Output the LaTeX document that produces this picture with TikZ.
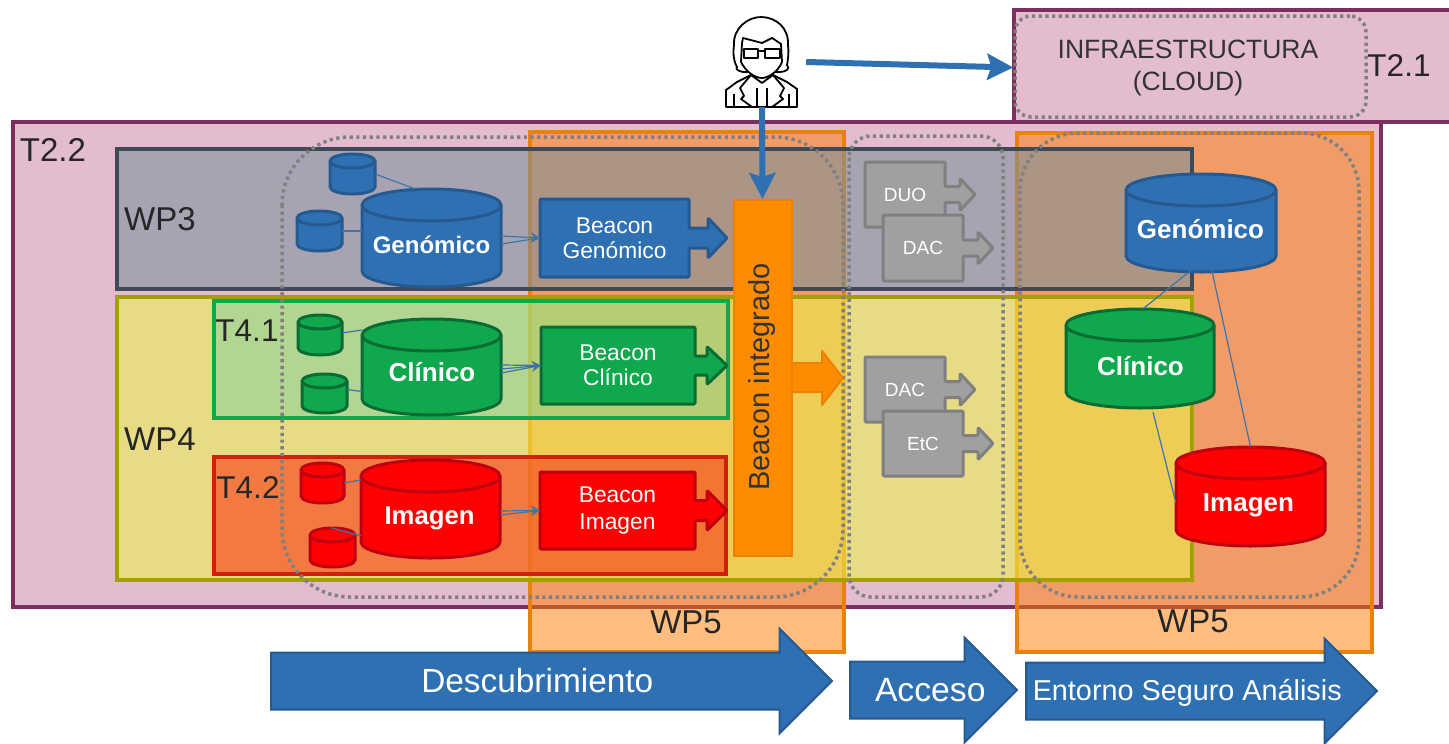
\documentclass[tikz,border=0pt]{standalone}
\usepackage{fontspec}
\setmainfont{Liberation Sans}
\usetikzlibrary{shapes.arrows,arrows.meta}
\definecolor{pinkbg}{HTML}{E4BCD0}
\definecolor{plum}{HTML}{7B2F5F}
\definecolor{wpthree}{HTML}{7C919E}
\definecolor{wpthreeb}{HTML}{3F4A55}
\definecolor{wpfour}{HTML}{EBF648}
\definecolor{wpfourb}{HTML}{A3A000}
\definecolor{tfa}{HTML}{72D0A0}
\definecolor{tfab}{HTML}{10A84A}
\definecolor{tfb}{HTML}{F8451F}
\definecolor{tfbb}{HTML}{D02010}
\definecolor{wpfive}{HTML}{FF7D00}
\definecolor{wpfiveb}{HTML}{E8820C}
\definecolor{blueF}{HTML}{2E70B2}
\definecolor{blueB}{HTML}{25598F}
\definecolor{greenF}{HTML}{0FA84C}
\definecolor{greenB}{HTML}{0B6B35}
\definecolor{redF}{HTML}{FE0000}
\definecolor{redB}{HTML}{BE0010}
\definecolor{greyF}{HTML}{A0A0A0}
\definecolor{greyB}{HTML}{808080}
\definecolor{orF}{HTML}{FF8C00}
\definecolor{orB}{HTML}{F08000}
\definecolor{linkc}{HTML}{3F74A8}
\tikzset{
 x=1pt,y=-1pt,
 lab/.style={font=\fontsize{33}{35}\selectfont,text=black!85,inner sep=0},
 tlab/.style={font=\fontsize{31.5}{34}\selectfont,text=black!85,inner sep=0},
 band/.style={line width=3.5pt,rectangle},
 dotbox/.style={draw=greyB,line width=3.5pt,dash pattern=on 3.2pt off 3.5pt},
 link/.style={draw=linkc,line width=1.2pt},
 linka/.style={link,-{Stealth[length=9pt,width=11pt]}},
 thick arrow/.style={draw=blueF,line width=6pt,-{Stealth[length=26pt,width=26pt,inset=4pt]}},
 bigarrow/.style={shape=single arrow,single arrow tip angle=90,single arrow head indent=0pt,draw=blueB,fill=blueF,line width=2pt,inner xsep=0,inner ysep=0,text=white,anchor=west,single arrow head extend=24pt,text height=38.5pt,text depth=16.5pt},
 cyltext/.style={font=\bfseries\fontsize{#1}{28}\selectfont,text=white,inner sep=0},
}
% cylinder: name, colour, x0, y0, x1, y1, ry (a rectangle node called name spans it)
\newcommand\dbcyl[7]{%
 \pgfmathsetmacro\cylcx{(#3+#5)/2}%
 \pgfmathsetmacro\cylrx{(#5-#3)/2}%
 \pgfmathsetmacro\cylyt{#4+#7}%
 \pgfmathsetmacro\cylyb{#6-#7}%
 \pgfmathsetmacro\cylkx{.5523*\cylrx}%
 \pgfmathsetmacro\cylky{.5523*#7}%
 \pgfmathsetmacro\cylw{#5-#3}%
 \pgfmathsetmacro\cylh{#6-#4}%
 \pgfmathsetmacro\cylcy{(#4+#6)/2}%
 \draw[draw=#2B,fill=#2F,line width=3pt,line join=round]
  (#3,\cylyt) -- (#3,\cylyb) .. controls (#3,\cylyb+\cylky) and (\cylcx-\cylkx,#6) .. (\cylcx,#6)
  .. controls (\cylcx+\cylkx,#6) and (#5,\cylyb+\cylky) .. (#5,\cylyb) -- (#5,\cylyt)
  .. controls (#5,\cylyt-\cylky) and (\cylcx+\cylkx,#4) .. (\cylcx,#4)
  .. controls (\cylcx-\cylkx,#4) and (#3,\cylyt-\cylky) .. (#3,\cylyt) -- cycle;
 \draw[draw=#2B,line width=3pt] (#5,\cylyt)
  .. controls (#5,\cylyt+\cylky) and (\cylcx+\cylkx,\cylyt+#7) .. (\cylcx,\cylyt+#7)
  .. controls (\cylcx-\cylkx,\cylyt+#7) and (#3,\cylyt+\cylky) .. (#3,\cylyt);
 \node[minimum width=\cylw pt,minimum height=\cylh pt,inner sep=0] (#1) at (\cylcx,\cylcy) {};}
% name, colour, x0, y0, xb, y1, xh, tip, head half-height, then node options and text
\newcommand\callout[9]{%
 \pgfmathsetmacro\cyc{(#4+#6)/2}%
 \pgfmathsetmacro\hhalf{#9}%
 \pgfmathsetmacro\shalf{#9/2}%
 \draw[draw=#2B,fill=#2F,line width=3pt,line join=round,rounded corners=1pt]
  (#3,#4)--(#5,#4)--(#5,\cyc-\shalf)--(#7,\cyc-\shalf)--(#7,\cyc-\hhalf)--(#8,\cyc)--(#7,\cyc+\hhalf)--(#7,\cyc+\shalf)--(#5,\cyc+\shalf)--(#5,#6)--(#3,#6)--cycle;
 \pgfmathsetmacro\cxc{(#3+#5)/2}%
 \pgfmathsetmacro\bw{#5-#3}%
 \pgfmathsetmacro\bh{#6-#4}%
 \node[minimum width=\bw pt,minimum height=\bh pt,inner sep=0,align=center,text=white] (#1) at (\cxc,\cyc)}
\begin{document}
\begin{tikzpicture}
\useasboundingbox (0,0) rectangle (1449,744);
% ---- outer bands
\draw[band,draw=plum,fill=pinkbg] (1014,10) rectangle (1455,122);
\draw[band,draw=plum,fill=pinkbg] (13,122) rectangle (1381,607);
\path[fill=wpfive,fill opacity=.5] (530,132) rectangle (844,652);
\path[fill=wpfive,fill opacity=.5] (1017,133) rectangle (1372,652);
\draw[band,draw=wpfiveb] (530,132) rectangle (844,652);
\draw[band,draw=wpfiveb] (1017,133) rectangle (1372,652);
\path[fill=wpthree,fill opacity=.58] (117,149) rectangle (1192,289);
\draw[band,draw=wpthreeb] (117,149) rectangle (1192,289);
\path[fill=wpfour,fill opacity=.55] (117,297) rectangle (1192,580);
\draw[band,draw=wpfourb] (117,297) rectangle (1192,580);
\path[fill=tfa,fill opacity=.45] (214,301) rectangle (728,418);
\draw[band,draw=tfab] (214,301) rectangle (728,418);
\path[fill=tfb,fill opacity=.65] (214,457) rectangle (726,574);
\draw[band,draw=tfbb] (214,457) rectangle (726,574);
% ---- dotted groupings
\draw[dotbox,rounded corners=68pt] (282,137) rectangle (843,597);
\draw[dotbox,rounded corners=22pt] (849,136) rectangle (1003,597);
\draw[dotbox,rounded corners=58pt] (1020,133) rectangle (1359,597);
\node[dotbox,rectangle,rounded corners=16pt,minimum width=351pt,minimum height=101pt,inner sep=0] (cloud) at (1190.5,66.5) {};
\node[inner sep=0,align=center,text=black!80,font=\fontsize{26.5}{32}\selectfont] (cloudt) at (1188,68) {INFRAESTRUCTURA\\(CLOUD)};
% ---- labels
\node[lab] (lT22) at (53,150) {T2.2};
\node[tlab] (lT21) at (1399,66) {T2.1};
\node[lab] (lWP3) at (160,219) {WP3};
\node[lab] (lWP4) at (160,439) {WP4};
\node[tlab] (lT41) at (247,331) {T4.1};
\node[tlab] (lT42) at (248,487) {T4.2};
\node[lab] (lW5a) at (686,622) {WP5};
\node[lab] (lW5b) at (1193,621) {WP5};
% ---- left cylinders
\dbcyl{gen}{blue}{362}{189}{501}{287}{16}
\node[cyltext=24] (gent) at (431.5,245) {Genómico};
\dbcyl{gs1}{blue}{330}{154}{375}{194}{7}
\dbcyl{gs2}{blue}{297}{211}{342}{251}{7}
\dbcyl{cli}{green}{362}{319}{501}{415}{16}
\node[cyltext=26] (clit) at (432,372) {Clínico};
\dbcyl{cs1}{green}{298}{315}{342}{355}{7}
\dbcyl{cs2}{green}{302}{374}{347}{413}{7}
\dbcyl{ima}{red}{361}{460}{500}{558}{16}
\node[cyltext=25.7] (imat) at (429.5,518) {Imagen};
\dbcyl{rs1}{red}{301}{463}{344}{503}{7}
\dbcyl{rs2}{red}{310}{528}{355}{567}{7}
% ---- callouts
\callout{bg}{blue}{540}{199}{689}{277}{708}{727}{20}[font=\fontsize{22.8}{25}\selectfont] {Beacon\\Genómico};
\callout{bc}{green}{541}{327}{695}{404}{707}{727}{19}[font=\fontsize{22.8}{25}\selectfont] {Beacon\\Clínico};
\callout{bi}{red}{540}{472}{695}{549}{707}{727}{20}[font=\fontsize{22.8}{27}\selectfont] {Beacon\\Imagen};
\callout{duo}{grey}{865}{162}{945}{227}{960}{975}{16}[font=\fontsize{19}{21}\selectfont] {DUO};
\callout{dac}{grey}{883}{215}{963}{281}{978}{993}{16}[font=\fontsize{19}{21}\selectfont] {DAC};
\callout{dacb}{grey}{865}{357}{945}{422}{960}{975}{16}[font=\fontsize{19}{21}\selectfont] {DAC};
\callout{etc}{grey}{883}{411}{963}{476}{978}{993}{16}[font=\fontsize{19}{21}\selectfont] {EtC};
% ---- beacon integrado
\path[draw=orB,fill=orF,line width=2pt,line join=round] (790,363)--(822,363)--(822,351)--(843,378)--(822,405)--(822,392)--(790,392)--cycle;
\node[draw=orB,fill=orF,line width=2pt,minimum width=58pt,minimum height=356pt,inner sep=0] (integ) at (762.5,378) {};
\node[rotate=90,inner sep=0,font=\fontsize{29}{31}\selectfont,text=black!80] (integt) at (762,377) {Beacon integrado};
% ---- right cylinders
\dbcyl{rgen}{blue}{1126}{174}{1276}{272}{16}
\node[cyltext=26] (rgent) at (1200.5,229) {Genómico};
\dbcyl{rcli}{green}{1066}{309}{1214}{408}{16}
\node[cyltext=26] (rclit) at (1140.5,366) {Clínico};
\dbcyl{rima}{red}{1176}{447}{1325}{546}{16}
\node[cyltext=26] (rimat) at (1248.5,505) {Imagen};
% ---- thin links
\draw[link] (gs1.east) -- ([xshift=53pt]gen.north west);
\draw[link] (gs2.east) -- (gs2.east -| gen.west);
\draw[link] ([yshift=2pt]cs1.east) -- ([yshift=5pt]cs1.east -| cli.west);
\draw[link] ([yshift=4pt]cs2.east) -- ([yshift=2pt]cs2.east -| cli.west);
\draw[link] (rs1.east) -- ([yshift=3pt]rs1.east -| ima.west);
\draw[link] ([xshift=-1pt]rs2.north) -- ([yshift=-8pt]rs2.north -| ima.west);
\draw[link] ([yshift=-6pt]gen.east) -- (bg.west);
\draw[linka] ([yshift=2pt]gen.east) -- (bg.west);
\draw[link] ([yshift=-6pt]cli.east) -- (bc.west);
\draw[link] ([yshift=2pt]cli.east) -- (bc.west);
\draw[linka] ([yshift=-2pt]cli.east) -- (bc.west);
\draw[link] ([yshift=-6pt]ima.east) -- (bi.west);
\draw[linka] ([yshift=-2pt]ima.east) -- (bi.west);
\draw[link] ([xshift=-11pt,yshift=1pt]rgen.south) -- ([xshift=3pt]rcli.north);
\draw[link] ([xshift=11pt,yshift=1pt]rgen.south) -- (rima.north);
\draw[link] ([xshift=13pt,yshift=-4pt]rcli.south) -- ([yshift=-6pt]rima.west);
% ---- person
\node[minimum width=72pt,minimum height=90pt,inner sep=0] (person) at (762,62) {};
\begin{scope}[line width=1.8pt,draw=black,line join=round]
\draw[fill=white] (743,72) .. controls (738,71) and (735,69) .. (737,67) .. controls (733,60) and (733,52) .. (734,45) .. controls (733,28) and (748,17) .. (761,17) .. controls (776,17) and (789,28) .. (788,45) .. controls (789,52) and (788,60) .. (787,65) .. controls (791,69) and (785,72) .. (780,72) -- cycle;
\draw[fill=white] (742,43) -- (743,38) -- (762,43) -- (772,38) -- (781,44) -- (782,62) .. controls (778,72) and (768,78) .. (762,78) .. controls (755,78) and (746,72) .. (741,62) -- cycle;
\draw[line width=2pt] (744,49) rectangle (758,58);
\draw[line width=2pt] (765,49) rectangle (780,58);
\draw[line width=2pt] (758,51) -- (765,51);
\draw[fill=white] (726,107) -- (726,90) -- (737,82) -- (751,75) -- (762,83) -- (773,75) -- (787,82) -- (797,89) -- (797,107) -- cycle;
\draw (751,75) -- (740,88) -- (744,96) -- (741,99) -- (752,107);
\draw (773,75) -- (784,88) -- (780,96) -- (783,99) -- (772,107);
\draw (757,88) -- (757,107);
\draw (767,88) -- (767,107);
\draw (734,94) -- (734,107);
\draw (789,94) -- (789,107);
\end{scope}
% ---- thick blue arrows
\draw[thick arrow] ([xshift=8pt]person.east) -- ([yshift=-1pt]cloud.west);
\draw[thick arrow] (person.south) -- (integ.north);
% ---- process arrows
\node[bigarrow,minimum width=102pt,minimum height=561pt,font=\fontsize{33.4}{35}\selectfont] (des) at (270,681) {Descubrimiento};
\node[bigarrow,minimum width=103pt,minimum height=167pt,font=\fontsize{33.7}{35}\selectfont] (acc) at (849,690) {\hspace*{22pt}Acceso};
\node[bigarrow,minimum width=103pt,minimum height=351pt,text height=37pt,text depth=18pt,font=\fontsize{28.8}{30}\selectfont] (ent) at (1025,691) {Entorno Seguro Análisis};
\end{tikzpicture}
\end{document}
